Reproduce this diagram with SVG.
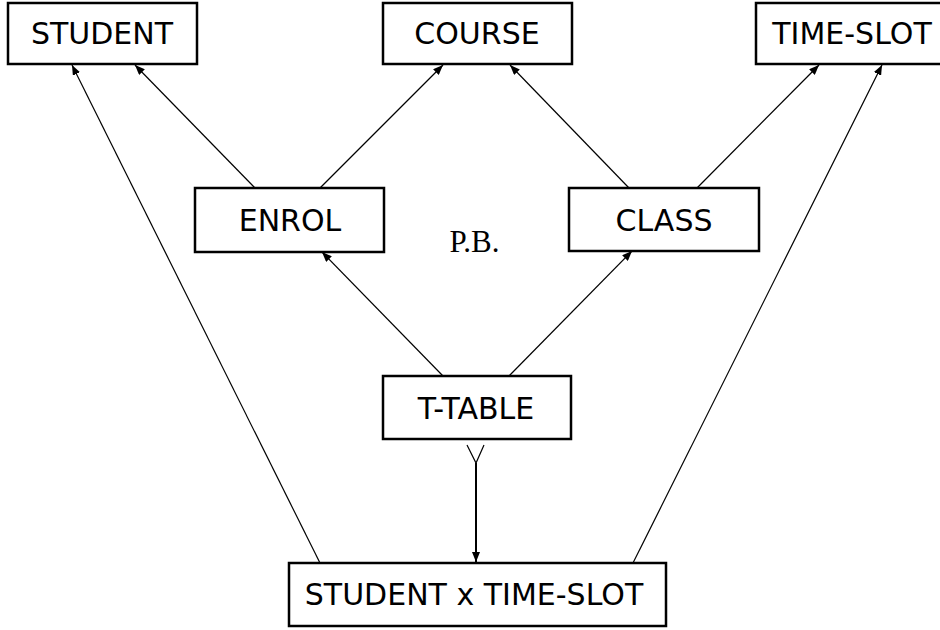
<svg xmlns="http://www.w3.org/2000/svg" width="940" height="630" viewBox="0 0 940 630">
<style>
.box{fill:#fff;stroke:#000;stroke-width:2.5}
.lbl{font-family:"DejaVu Sans",sans-serif;font-size:30px;text-anchor:middle;fill:#000}
.c{stroke:#000;stroke-width:1.2;fill:none}
</style>
<defs>
<marker id="ah" viewBox="0 0 10 8" refX="10" refY="4" markerWidth="10" markerHeight="8" markerUnits="userSpaceOnUse" orient="auto">
<path d="M0,0 L10,4 L0,8 Z" fill="#000"/>
</marker>
</defs>
<rect width="940" height="630" fill="#fff"/>
<g id="connectors">
<line class="c" x1="320" y1="563" x2="72" y2="65" marker-end="url(#ah)"/>
<line class="c" x1="255" y1="188" x2="135" y2="65" marker-end="url(#ah)"/>
<line class="c" x1="320" y1="188" x2="443" y2="65" marker-end="url(#ah)"/>
<line class="c" x1="629" y1="188" x2="510" y2="65" marker-end="url(#ah)"/>
<line class="c" x1="697" y1="188" x2="819" y2="65" marker-end="url(#ah)"/>
<line class="c" x1="633" y1="563" x2="882" y2="65" marker-end="url(#ah)"/>
<line class="c" x1="443" y1="376" x2="322" y2="252" marker-end="url(#ah)"/>
<line class="c" x1="509" y1="376" x2="632" y2="251" marker-end="url(#ah)"/>
<polyline class="c" points="467,445 476,463 484,445"/>
<line x1="476" y1="463" x2="476" y2="562" stroke="#000" stroke-width="2" marker-end="url(#ah)"/>
</g>
<g id="student"><rect class="box" x="8" y="3" width="189" height="61"/><text class="lbl" x="102" y="44">STUDENT</text></g>
<g id="course"><rect class="box" x="383" y="3" width="189" height="61"/><text class="lbl" x="477" y="44">COURSE</text></g>
<g id="time-slot"><rect class="box" x="756" y="3" width="192" height="61"/><text class="lbl" x="852" y="44">TIME-SLOT</text></g>
<g id="enrol"><rect class="box" x="195" y="188" width="189" height="64"/><text class="lbl" x="290" y="231">ENROL</text></g>
<g id="class"><rect class="box" x="569" y="188" width="190" height="63"/><text class="lbl" x="664" y="231">CLASS</text></g>
<g id="pb"><text x="474.5" y="252" font-family="'Liberation Serif',serif" font-size="31" text-anchor="middle">P.B.</text></g>
<g id="t-table"><rect class="box" x="383" y="376" width="188" height="63"/><text class="lbl" x="476" y="419">T-TABLE</text></g>
<g id="student-x-time-slot"><rect class="box" x="289" y="563" width="377" height="63"/><text class="lbl" x="474" y="605">STUDENT x TIME-SLOT</text></g>
</svg>
